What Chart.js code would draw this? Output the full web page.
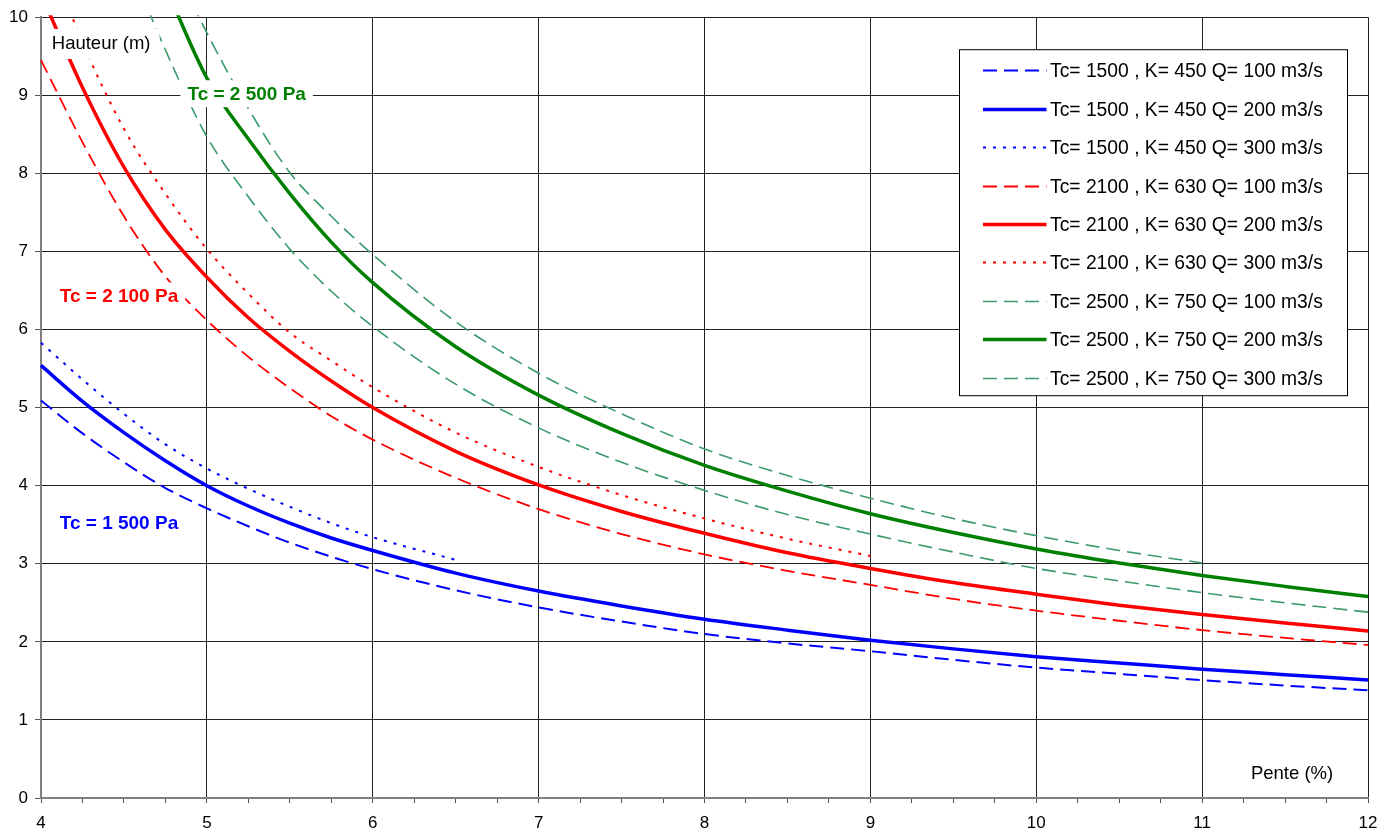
<!DOCTYPE html>
<html>
<head>
<meta charset="utf-8">
<script src="https://cdn.jsdelivr.net/npm/chart.js@4/dist/chart.umd.min.js"></script>
<style>
  html, body { margin: 0; padding: 0; background: #fff; }
  canvas { display: block; }
</style>
</head>
<body>
<canvas id="c" width="1392" height="836"></canvas>
<script>
// Slope (%) sample points shared by all curves
const pente = [4, 4.25, 4.5, 4.75, 5, 5.25, 5.5, 5.75, 6, 6.5, 7, 7.5, 8, 8.5, 9, 9.5, 10, 10.5, 11, 11.5, 12];

// Height (m) for each critical shear / flow combination
const h1500q100 = [5.09, 4.67, 4.30, 3.97, 3.71, 3.48, 3.27, 3.09, 2.93, 2.66, 2.44, 2.26, 2.10, 1.98, 1.88, 1.77, 1.67, 1.59, 1.51, 1.44, 1.38];
const h1500q200 = [5.54, 5.08, 4.68, 4.32, 4.00, 3.74, 3.52, 3.33, 3.17, 2.88, 2.65, 2.46, 2.29, 2.15, 2.02, 1.91, 1.81, 1.73, 1.65, 1.58, 1.51];
const h1500q300 = [5.83, 5.36, 4.92, 4.53, 4.22, 3.96, 3.73, 3.52, 3.34, 3.05, null, null, null, null, null, null, null, null, null, null, null];
const h2100q100 = [9.45, 8.40, 7.45, 6.68, 6.12, 5.65, 5.25, 4.89, 4.59, 4.10, 3.70, 3.38, 3.12, 2.91, 2.73, 2.55, 2.40, 2.27, 2.15, 2.05, 1.96];
const h2100q200 = [10.30, 9.10, 8.08, 7.28, 6.67, 6.15, 5.72, 5.34, 5.00, 4.44, 4.01, 3.67, 3.39, 3.14, 2.94, 2.76, 2.61, 2.47, 2.35, 2.24, 2.14];
const h2100q300 = [11.05, 9.68, 8.57, 7.74, 7.03, 6.46, 5.96, 5.60, 5.26, 4.68, 4.24, 3.88, 3.58, 3.32, 3.10, null, null, null, null, null, null];
const h2500q100 = [null, null, 10.85, 9.58, 8.47, 7.70, 7.03, 6.49, 6.04, 5.30, 4.74, 4.30, 3.94, 3.63, 3.38, 3.15, 2.94, 2.78, 2.63, 2.50, 2.38];
const h2500q200 = [null, null, 11.6, 10.4, 9.22, 8.44, 7.74, 7.12, 6.60, 5.78, 5.16, 4.67, 4.26, 3.93, 3.64, 3.40, 3.19, 3.01, 2.85, 2.71, 2.58];
const h2500q300 = [null, null, null, 10.9, 9.80, 8.83, 8.01, 7.45, 6.96, 6.10, 5.44, 4.92, 4.47, 4.13, 3.84, 3.58, 3.36, 3.17, 3.01, null, null];

const seriesLabels = [
  'Tc= 1500 , K= 450 Q= 100 m3/s',
  'Tc= 1500 , K= 450 Q= 200 m3/s',
  'Tc= 1500 , K= 450 Q= 300 m3/s',
  'Tc= 2100 , K= 630 Q= 100 m3/s',
  'Tc= 2100 , K= 630 Q= 200 m3/s',
  'Tc= 2100 , K= 630 Q= 300 m3/s',
  'Tc= 2500 , K= 750 Q= 100 m3/s',
  'Tc= 2500 , K= 750 Q= 200 m3/s',
  'Tc= 2500 , K= 750 Q= 300 m3/s'
];
const seriesValues = [h1500q100, h1500q200, h1500q300, h2100q100, h2100q200, h2100q300, h2500q100, h2500q200, h2500q300];

// Axis ranges
const xRange = [4, 12];
const yRange = [0, 10];

// Text placed on the plot (data coordinates)
const noteTexts = ['Tc = 2 500 Pa', 'Tc = 2 100 Pa', 'Tc = 1 500 Pa'];
const noteX = [5.24, 4.47, 4.47];
const noteY = [9.02, 6.43, 3.53];
const noteColors = ['#008000', '#ff0000', '#0000ff'];

const FONT = "'Liberation Sans', Arial, Helvetica, sans-serif";

// Line styles per flow rate
const BLUE = '#0000ff', RED = '#ff0000', GREEN = '#008000', SEA = '#3a9a6b';
const styles = [
  { color: BLUE,  width: 2,   dash: [14, 7] },
  { color: BLUE,  width: 3.5, dash: [] },
  { color: BLUE,  width: 2,   dash: [3, 7] },
  { color: RED,   width: 1.8, dash: [14, 7] },
  { color: RED,   width: 3.5, dash: [] },
  { color: RED,   width: 2,   dash: [3, 7] },
  { color: SEA,   width: 1.6, dash: [14, 7] },
  { color: GREEN, width: 3.5, dash: [] },
  { color: SEA,   width: 1.6, dash: [14, 7] }
];

const datasets = seriesValues.map((vals, i) => ({
  label: seriesLabels[i],
  data: pente.map((x, j) => ({ x: x, y: vals[j] })),
  borderColor: styles[i].color,
  backgroundColor: styles[i].color,
  borderWidth: styles[i].width,
  borderDash: styles[i].dash,
  pointRadius: 0,
  pointHoverRadius: 0,
  fill: false,
  spanGaps: false,
  cubicInterpolationMode: 'monotone',
  clip: 2
}));

function whiteBoxText(ctx, text, cx, cy, font, color, padX, padY) {
  ctx.save();
  ctx.font = font;
  const w = ctx.measureText(text).width;
  ctx.fillStyle = '#fff';
  ctx.fillRect(cx - w / 2 - padX, cy - padY, w + 2 * padX, 2 * padY);
  ctx.fillStyle = color;
  ctx.textAlign = 'center';
  ctx.textBaseline = 'middle';
  ctx.fillText(text, cx, cy + 1);
  ctx.restore();
}

const notesPlugin = {
  id: 'notes',
  afterDatasetsDraw(chart) {
    const ctx = chart.ctx;
    const xs = chart.scales.x, ys = chart.scales.y;
    // axis titles inside the plot
    ctx.save();
    ctx.font = '18.5px ' + FONT;
    ctx.fillStyle = '#fff';
    ctx.fillRect(xs.getPixelForValue(4.04), ys.getPixelForValue(9.85), 112, 30);
    ctx.fillStyle = '#000';
    ctx.textAlign = 'left';
    ctx.textBaseline = 'middle';
    ctx.fillText('Hauteur (m)', xs.getPixelForValue(4.065), ys.getPixelForValue(9.66));
    ctx.textAlign = 'right';
    ctx.fillText('Pente (%)', xs.getPixelForValue(11.79), ys.getPixelForValue(0.31));
    ctx.restore();
    // curve family labels
    noteTexts.forEach((t, i) => {
      whiteBoxText(ctx, t, xs.getPixelForValue(noteX[i]), ys.getPixelForValue(noteY[i]),
        'bold 19px ' + FONT, noteColors[i], 7, 13.5);
    });
  },
  afterDraw(chart) {
    const ctx = chart.ctx;
    const ca = chart.chartArea;
    const left = ca.right - 408.5, top = ca.top + 32.5, w = 388, h = 346;
    ctx.save();
    ctx.fillStyle = '#fff';
    ctx.fillRect(left, top, w, h);
    ctx.strokeStyle = '#000';
    ctx.lineWidth = 1;
    ctx.strokeRect(left, top, w, h);
    const rowH = 38.45;
    chart.data.datasets.forEach((ds, i) => {
      const y = Math.round(top + 20.5 + i * rowH) + 0.5;
      ctx.beginPath();
      ctx.strokeStyle = ds.borderColor;
      ctx.lineWidth = ds.borderWidth;
      ctx.setLineDash(ds.borderDash);
      ctx.moveTo(left + 23.5, y);
      ctx.lineTo(left + 87, y);
      ctx.stroke();
      ctx.setLineDash([]);
      ctx.fillStyle = '#000';
      ctx.font = '19.3px ' + FONT;
      ctx.textAlign = 'left';
      ctx.textBaseline = 'middle';
      ctx.fillText(ds.label, left + 90.5, y + 1);
    });
    ctx.restore();
  }
};

const gridColor = '#222';

new Chart(document.getElementById('c'), {
  type: 'line',
  data: { datasets: datasets },
  plugins: [notesPlugin],
  options: {
    responsive: false,
    devicePixelRatio: 1,
    animation: false,
    events: [],
    layout: { padding: { top: 15, right: 24, left: 0, bottom: 0 } },
    plugins: { legend: { display: false }, tooltip: { enabled: false } },
    scales: {
      x: {
        type: 'linear',
        min: xRange[0],
        max: xRange[1],
        afterFit(scale) { scale.height = 38; },
        ticks: {
          stepSize: 0.25,
          autoSkip: false,
          maxRotation: 0,
          padding: 10,
          color: '#000',
          font: { family: FONT, size: 17 },
          callback: (v) => Number.isInteger(v) ? String(v) : ''
        },
        grid: {
          color: (c) => (c.tick && Number.isInteger(c.tick.value)) ? gridColor : 'rgba(0,0,0,0)',
          tickColor: '#555',
          tickLength: 5,
          lineWidth: 1
        },
        border: { color: '#808080', width: 2 }
      },
      y: {
        type: 'linear',
        min: yRange[0],
        max: yRange[1],
        afterFit(scale) { scale.width = 41; },
        ticks: {
          stepSize: 1,
          padding: 7,
          color: '#000',
          font: { family: FONT, size: 17 }
        },
        grid: {
          color: gridColor,
          tickColor: '#555',
          tickLength: 6,
          lineWidth: 1
        },
        border: { color: '#808080', width: 2 }
      }
    }
  }
});
</script>
</body>
</html>
